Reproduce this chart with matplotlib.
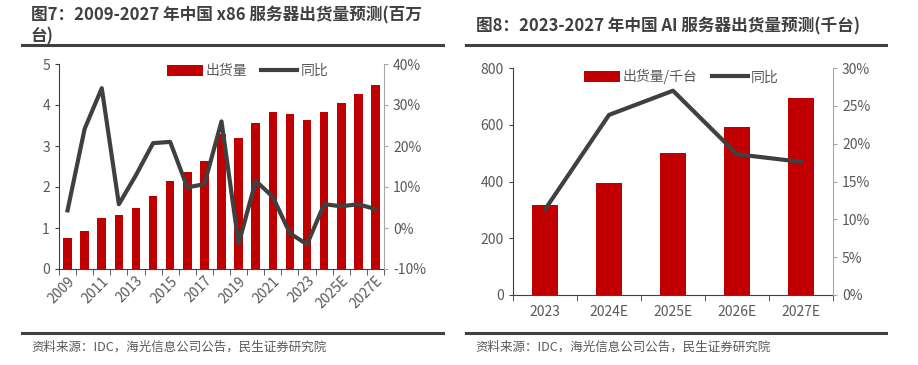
import matplotlib
matplotlib.use("Agg")
import matplotlib.pyplot as plt
import numpy as np

plt.rcParams['font.family'] = ['Noto Sans CJK SC', 'DejaVu Sans']

# left chart: x86 servers (million units) and yoy
years = ["2009", "2010", "2011", "2012", "2013", "2014", "2015", "2016", "2017", "2018",
         "2019", "2020", "2021", "2022", "2023", "2024E", "2025E", "2026E", "2027E"]
x86_units = [0.75, 0.92, 1.24, 1.31, 1.48, 1.78, 2.15, 2.37, 2.63, 3.30,
             3.19, 3.56, 3.83, 3.78, 3.63, 3.83, 4.05, 4.28, 4.49]
x86_yoy = [4.3, 24.2, 34.1, 5.8, 12.9, 20.7, 21.0, 9.9, 10.7, 26.0,
           -3.9, 11.5, 7.6, -1.3, -4.0, 5.8, 5.3, 5.8, 4.6]

# right chart: AI servers (thousand units) and yoy
ai_years = ["2023", "2024E", "2025E", "2026E", "2027E"]
ai_units = [318, 394, 499, 592, 694]
ai_yoy = [11.3, 23.8, 27.0, 18.6, 17.6]

red = "#C00000"
dark = "#404040"
txt = "#595959"
W, H = 918, 365

fig = plt.figure(figsize=(W / 100, H / 100), dpi=100)


def box(x0, y0, x1, y1):
    return [x0 / W, 1 - y1 / H, (x1 - x0) / W, (y1 - y0) / H]


def style(ax, ax2):
    ax.spines["top"].set_visible(False)
    ax2.spines["top"].set_visible(False)
    ax.spines["left"].set_color(dark)
    ax.spines["bottom"].set_color(dark)
    ax.spines["right"].set_visible(False)
    ax2.spines["left"].set_visible(False)
    ax2.spines["bottom"].set_visible(False)
    ax2.spines["right"].set_color("#A6A6A6")
    ax.tick_params(axis="y", colors=dark, labelcolor=txt, labelsize=10, length=3)
    ax2.tick_params(axis="y", colors="#A6A6A6", labelcolor=txt, labelsize=10, length=3)
    ax.tick_params(axis="x", which="major", length=0, labelcolor=txt, labelsize=10)
    ax.tick_params(axis="x", which="minor", length=4, color=dark)


# ---- left chart ----
ax = fig.add_axes(box(59, 64, 384, 269))
ax2 = ax.twinx()
x = np.arange(len(years))
bars = ax.bar(x, x86_units, width=0.5, color=red)
line, = ax2.plot(x, x86_yoy, color=dark, lw=3)
ax.set_xlim(-0.5, len(years) - 0.5)
ax.set_ylim(0, 5)
ax.set_yticks(range(0, 6))
ax2.set_ylim(-10, 40)
ax2.set_yticks(range(-10, 41, 10))
ax2.set_yticklabels([f"{v}%" for v in range(-10, 41, 10)])
ax.set_xticks(x[::2])
ax.set_xticklabels(years[::2], rotation=45, ha="right", rotation_mode="anchor")
ax.set_xticks(np.arange(-0.5, len(years)), minor=True)
style(ax, ax2)
ax2.legend([bars, line], ["出货量", "同比"], loc="upper center", ncol=2, frameon=False,
           bbox_to_anchor=(0.58, 1.06), fontsize=10, handlelength=2.6, handleheight=0.9,
           columnspacing=1.0, handletextpad=0.2, labelcolor=txt)

# ---- right chart ----
bx = fig.add_axes(box(513, 68, 833, 295))
bx2 = bx.twinx()
xi = np.arange(len(ai_years))
bars2 = bx.bar(xi, ai_units, width=0.42, color=red)
line2, = bx2.plot(xi, ai_yoy, color=dark, lw=3)
bx.set_xlim(-0.5, len(ai_years) - 0.5)
bx.set_ylim(0, 800)
bx.set_yticks(range(0, 801, 200))
bx2.set_ylim(0, 30)
bx2.set_yticks(range(0, 31, 5))
bx2.set_yticklabels([f"{v}%" for v in range(0, 31, 5)])
bx.set_xticks(xi)
bx.set_xticklabels(ai_years)
bx.set_xticks(np.arange(-0.5, len(ai_years)), minor=True)
style(bx, bx2)
bx.tick_params(axis="x", pad=7)
bx2.legend([bars2, line2], ["出货量/千台", "同比"], loc="upper center", ncol=2, frameon=False,
           bbox_to_anchor=(0.525, 1.05), fontsize=10, handlelength=2.6, handleheight=0.9,
           columnspacing=1.0, handletextpad=0.2, labelcolor=txt)

# ---- titles, rules, sources ----
fig.text(31 / W, 1 - 15 / H, "图7：2009-2027 年中国 x86 服务器出货量预测(百万", fontsize=12,
         fontweight="bold", color=dark, va="center")
fig.text(31 / W, 1 - 36 / H, "台)", fontsize=12, fontweight="bold", color=dark, va="center")
fig.text(476 / W, 1 - 26 / H, "图8：2023-2027 年中国 AI 服务器出货量预测(千台)", fontsize=12,
         fontweight="bold", color=dark, va="center")

for x0, x1 in [(22, 443), (466, 886)]:
    for yy in [45, 333]:
        fig.add_artist(plt.Line2D([x0 / W, x1 / W], [1 - yy / H, 1 - yy / H],
                                  color=dark, lw=2.2))
    fig.text((x0 + 9) / W, 1 - 347 / H, "资料来源：IDC，海光信息公司公告，民生证券研究院",
             fontsize=9, color=txt, va="center")

fig.savefig("out.png", dpi=100)
